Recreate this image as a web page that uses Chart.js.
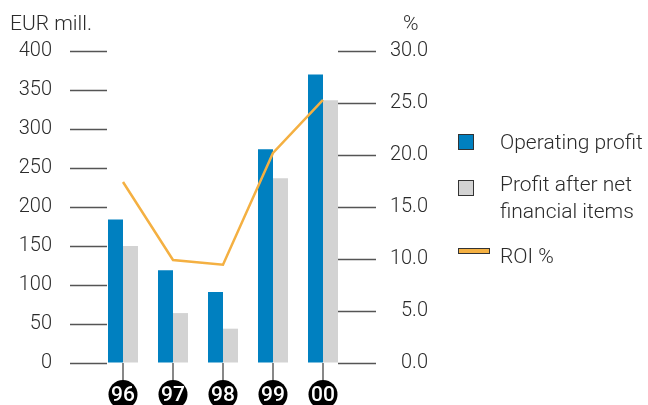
<!DOCTYPE html>
<html>
<head>
<meta charset="utf-8">
<script src="https://cdn.jsdelivr.net/npm/chart.js@4.4.1/dist/chart.umd.min.js"></script>
<style>
  html, body { margin: 0; padding: 0; background: #fff; }
  #wrap { position: relative; width: 648px; height: 405px; overflow: hidden; font-family: Roboto, "Liberation Sans", sans-serif; font-weight: 300; color: #2b2b2b; }
  canvas { position: absolute; left: 0; top: 0; }
  .t { position: absolute; font-size: 21px; line-height: 21px; white-space: nowrap; }
  .sw { position: absolute; box-sizing: border-box; border: 1px solid #333; }
  .lg { position: absolute; font-size: 21px; line-height: 27px; white-space: nowrap; }
</style>
</head>
<body>
<div id="wrap">
  <canvas id="c" width="648" height="405"></canvas>
  <div class="t" id="tl" style="left:10px; top:13px;"></div>
  <div class="t" id="tr" style="left:403px; top:13px;"></div>
  <div id="legend"></div>
</div>
<script>
const categories = ['96', '97', '98', '99', '00'];
const operatingProfit = [184, 119, 91, 274, 370];
const profitAfterNet = [150, 64, 44, 237, 337];
const roiPercent = [17.4, 9.9, 9.45, 20.2, 25.3];
const leftTicks = [0, 50, 100, 150, 200, 250, 300, 350, 400];
const rightTicks = [0, 5, 10, 15, 20, 25, 30];
const seriesNames = ['Operating profit', 'Profit after net\nfinancial items', 'ROI %'];
const leftTitle = 'EUR mill.';
const rightTitle = '%';

const BLUE = '#0080c0';
const GRAY = '#d3d3d3';
const ORANGE = '#f4b042';
const TEXT = '#2b2b2b';

document.getElementById('tl').textContent = leftTitle;
document.getElementById('tr').textContent = rightTitle;

// legend (HTML, real text)
const legend = document.getElementById('legend');
const legendDefs = [
  { name: seriesNames[0], color: BLUE, sw: {left: 458, top: 134, w: 16, h: 16}, text: {left: 500, top: 129} },
  { name: seriesNames[1], color: GRAY, sw: {left: 458, top: 180, w: 16, h: 16}, text: {left: 500, top: 171} },
  { name: seriesNames[2], color: ORANGE, sw: {left: 458, top: 248, w: 32, h: 6}, text: {left: 500, top: 243} }
];
legendDefs.forEach(d => {
  const s = document.createElement('div');
  s.className = 'sw';
  s.style.left = d.sw.left + 'px'; s.style.top = d.sw.top + 'px';
  s.style.width = d.sw.w + 'px'; s.style.height = d.sw.h + 'px';
  s.style.background = d.color;
  legend.appendChild(s);
  const t = document.createElement('div');
  t.className = 'lg';
  t.style.left = d.text.left + 'px'; t.style.top = d.text.top + 'px';
  d.name.split('\n').forEach((line, i) => {
    if (i) t.appendChild(document.createElement('br'));
    t.appendChild(document.createTextNode(line));
  });
  legend.appendChild(t);
});

const tickMarks = {
  id: 'tickMarks',
  beforeDatasetsDraw(chart) {
    const ctx = chart.ctx;
    ctx.save();
    ctx.strokeStyle = '#555';
    ctx.lineWidth = 1.4;
    const y = chart.scales.y, y1 = chart.scales.y1;
    leftTicks.forEach(v => {
      const p = Math.round(y.getPixelForValue(v)) + 0.5;
      ctx.beginPath(); ctx.moveTo(70, p); ctx.lineTo(107, p); ctx.stroke();
    });
    rightTicks.forEach(v => {
      const p = Math.round(y1.getPixelForValue(v)) + 0.5;
      ctx.beginPath(); ctx.moveTo(338, p); ctx.lineTo(376, p); ctx.stroke();
    });
    ctx.restore();
  },
  afterDraw(chart) {
    const ctx = chart.ctx;
    const x = chart.scales.x;
    const base = chart.scales.y.getPixelForValue(0);
    ctx.save();
    categories.forEach((lab, i) => {
      const cx = Math.round(x.getPixelForValue(i));
      ctx.strokeStyle = '#555';
      ctx.lineWidth = 1.4;
      ctx.beginPath(); ctx.moveTo(cx, base); ctx.lineTo(cx, 381); ctx.stroke();
      ctx.fillStyle = '#000';
      ctx.beginPath(); ctx.arc(cx, 394.5, 14.5, 0, Math.PI * 2); ctx.fill();
      ctx.fillStyle = '#fff';
      ctx.font = '500 21px Roboto, "Liberation Sans", sans-serif';
      ctx.textAlign = 'center';
      ctx.textBaseline = 'middle';
      ctx.fillText(lab, cx, 396);
    });
    ctx.restore();
  }
};

Chart.defaults.font.family = 'Roboto, "Liberation Sans", sans-serif';
Chart.defaults.font.weight = 300;
Chart.defaults.font.size = 20;
Chart.defaults.color = TEXT;

new Chart(document.getElementById('c'), {
  data: {
    labels: categories,
    datasets: [
      { type: 'line', label: seriesNames[2], data: roiPercent, yAxisID: 'y1', order: 0,
        borderColor: ORANGE, borderWidth: 2.5, pointRadius: 0, tension: 0, fill: false },
      { type: 'bar', label: seriesNames[0], data: operatingProfit, yAxisID: 'y', order: 1,
        backgroundColor: BLUE, borderWidth: 0, categoryPercentage: 0.6, barPercentage: 1.0 },
      { type: 'bar', label: seriesNames[1], data: profitAfterNet, yAxisID: 'y', order: 1,
        backgroundColor: GRAY, borderWidth: 0, categoryPercentage: 0.6, barPercentage: 1.0 }
    ]
  },
  options: {
    responsive: false,
    animation: false,
    devicePixelRatio: 1,
    layout: { padding: { top: 51, right: 220, bottom: 42, left: 0 } },
    plugins: { legend: { display: false }, tooltip: { enabled: false } },
    scales: {
      x: { type: 'category', display: false, offset: true },
      y: {
        position: 'left', min: 0, max: 400,
        afterBuildTicks: s => { s.ticks = leftTicks.map(v => ({ value: v })); },
        afterFit: s => { s.width = 98; },
        grid: { display: true, drawOnChartArea: false, drawTicks: true, tickLength: 46, tickColor: 'rgba(0,0,0,0)' },
        border: { display: false },
        ticks: { padding: 0, crossAlign: 'near', callback: v => String(v) }
      },
      y1: {
        position: 'right', min: 0, max: 30,
        afterBuildTicks: s => { s.ticks = rightTicks.map(v => ({ value: v })); },
        afterFit: s => { s.width = 80; },
        grid: { display: false, drawTicks: false },
        border: { display: false },
        ticks: { padding: 0, crossAlign: 'far', callback: v => Number(v).toFixed(1) }
      }
    }
  },
  plugins: [tickMarks]
});
</script>
</body>
</html>
